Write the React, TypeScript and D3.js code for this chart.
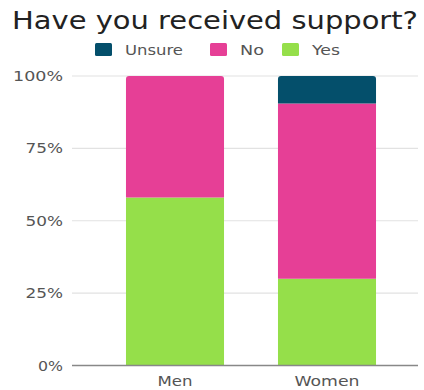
import React from "react";
import * as d3 from "d3";

const categories = ["Men", "Women"];
const seriesKeys = ["Yes", "No", "Unsure"];
const yesValues = [58, 30];
const noValues = [42, 60.5];
const unsureValues = [0, 9.5];
const yTicks = [0, 25, 50, 75, 100];
const legendOrder = ["Unsure", "No", "Yes"];
const colors: Record<string, string> = { Unsure: "#044f6b", No: "#e63f96", Yes: "#95df4a" };

const W = 424, H = 390;
const FONT = "'DejaVu Sans', sans-serif";

// approximate widths in reference, per character, for the wide geometric font
const wide = (s: string, perChar: number) => s.length * perChar;

export default function App() {
  const rows = categories.map((c, i) => ({ cat: c, Yes: yesValues[i], No: noValues[i], Unsure: unsureValues[i] }));
  const stack = d3.stack<any>().keys(seriesKeys)(rows);
  const x = d3.scaleBand().domain(categories).range([99, 403]).paddingInner(0.355).paddingOuter(0.1775);
  const y = d3.scaleLinear().domain([0, 100]).range([365.5, 76]);
  const r = 3;

  const legendX = [95, 210, 282];
  const legendW: Record<string, number> = { Unsure: 58, No: 24, Yes: 28 };
  const catW: Record<string, number> = { Men: 35, Women: 65 };

  return (
    <svg width={W} height={H} style={{ position: "absolute", left: 0, top: 0, background: "#fff" }}>
      <text x={12} y={29} fontFamily={FONT} fontSize={25} fill="#222" textLength={406} lengthAdjust="spacingAndGlyphs">
        Have you received support?
      </text>
      {legendOrder.map((k, i) => (
        <g key={k}>
          <rect x={legendX[i]} y={43} width={17} height={13} rx={1.5} fill={colors[k]} />
          <text x={legendX[i] + 30} y={55} fontFamily={FONT} fontSize={14} fill="#555" textLength={legendW[k]} lengthAdjust="spacingAndGlyphs">{k}</text>
        </g>
      ))}
      {yTicks.map((t) => {
        const label = `${t}%`;
        const w = wide(label, 12.5);
        return (
          <g key={t}>
            {t > 0 && <line x1={72} x2={418} y1={y(t)} y2={y(t)} stroke="#e2e2e2" strokeWidth={1.2} />}
            <text x={63 - w} y={y(t) + 5} fontFamily={FONT} fontSize={14} fill="#555" textLength={w} lengthAdjust="spacingAndGlyphs">
              {label}
            </text>
          </g>
        );
      })}
      {stack.map((s) =>
        s.map((d, i) => {
          const x0 = x(categories[i])!;
          const bw = x.bandwidth();
          const top = y(d[1]);
          const bot = y(d[0]);
          const h = bot - top;
          if (h <= 0) return null;
          const isTop = d[1] >= 100 - 1e-9 && (s.key === "Unsure" || unsureValues[i] === 0);
          const path = isTop
            ? `M${x0},${bot}V${top + r}Q${x0},${top} ${x0 + r},${top}H${x0 + bw - r}Q${x0 + bw},${top} ${x0 + bw},${top + r}V${bot}Z`
            : `M${x0},${bot}V${top}H${x0 + bw}V${bot}Z`;
          return <path key={s.key + i} d={path} fill={colors[s.key]} />;
        })
      )}
      <line x1={72} x2={418} y1={y(0)} y2={y(0)} stroke="#888" strokeWidth={1.5} />
      {categories.map((c) => (
        <text key={c} x={x(c)! + x.bandwidth() / 2 - catW[c] / 2} y={386} fontFamily={FONT} fontSize={14} fill="#555" textLength={catW[c]} lengthAdjust="spacingAndGlyphs">
          {c}
        </text>
      ))}
    </svg>
  );
}
